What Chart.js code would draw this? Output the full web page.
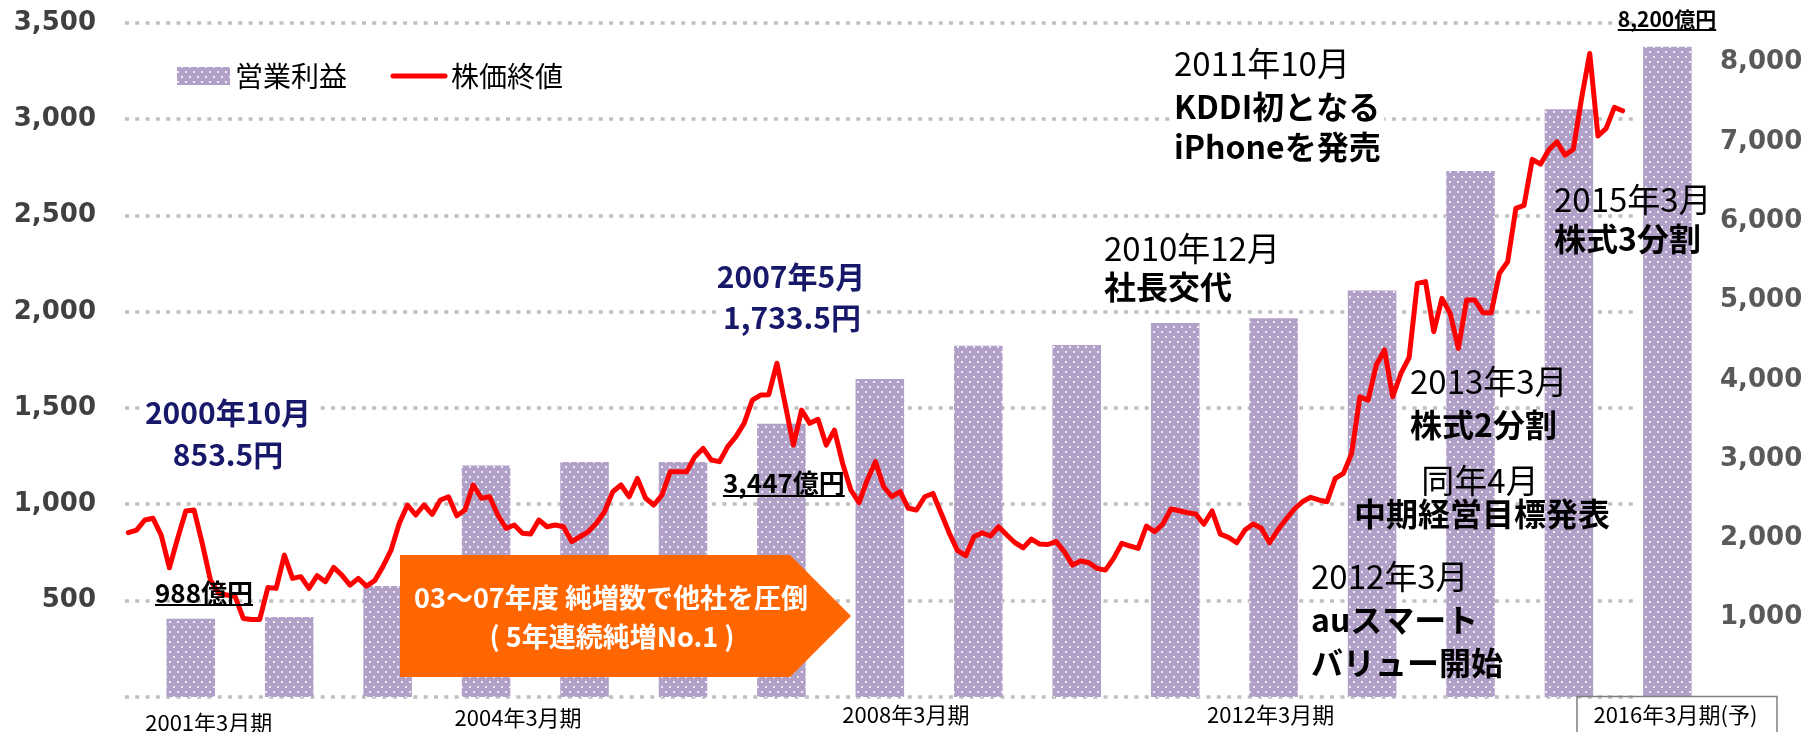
<!DOCTYPE html>
<html><head><meta charset="utf-8">
<script src="https://cdn.jsdelivr.net/npm/chart.js@4.4.0/dist/chart.umd.min.js"></script>
<style>html,body{margin:0;padding:0;background:#fff;}#wrap{width:1809px;height:732px;position:relative;}</style>
</head><body><div id="wrap"><canvas id="c" width="1809" height="732"></canvas></div>
<script>
// ---------------- data ----------------
const seriesNames = ['営業利益', '株価終値'];
const fiscalYears = [2001,2002,2003,2004,2005,2006,2007,2008,2009,2010,2011,2012,2013,2014,2015,2016];
const operatingProfit = [988,1010,1400,2920,2965,2965,3447,4009,4431,4439,4718,4775,5127,6632,7413,8200]; // 億円
// monthly closing price, first point = 2000年10月
const closingPrice = [
  853.5,867,919,928,841,671,824,966,971,798,
  607,538,530,521,408,403,403,569,564,737,
  616,625,564,630,599,673,633,581,616,576,
  604,677,763,902,997,945,997,948,1023,1040,
  941,971,1101,1032,1040,945,876,893,850,846,
  919,884,893,884,807,832,858,902,962,1066,
  1101,1040,1135,1032,997,1049,1170,1170,1170,1248,
  1291,1231,1222,1300,1352,1421,1542,1568,1570,1733.5,
  1520,1308,1490,1421,1442,1308,1386,1213,1075,1009,
  1127,1222,1092,1040,1066,980,971,1040,1057,954,
  850,760,734,832,853,836,884,841,801,775,
  820,794,792,807,755,685,706,697,668,659,
  720,798,784,772,888,858,898,976,967,957,
  950,897,966,846,829,801,867,898,876,801,
  867,923,975,1014,1037,1023,1014,1135,1161,1265,
  1559,1542,1724,1802,1559,1680,1763,2148,2157,1897,
  2070,1992,1810,2061,2061,1995,1995,2200,2260,2537,
  2553,2792,2767,2840,2883,2814,2844,3108,3342,2913,
  2953,3062,3044
];
const leftTicks = [500,1000,1500,2000,2500,3000,3500];
const rightTicks = [1000,2000,3000,4000,5000,6000,7000,8000];
const xTickFY = [2001,2004,2008,2012,2016];
const xTickLabels = ['2001年3月期','2004年3月期','2008年3月期','2012年3月期','2016年3月期(予)'];

// ---------------- style ----------------
const JP = '"Noto Sans CJK JP","Noto Sans",sans-serif';
const NUM = '"DejaVu Sans",sans-serif';
const NAVY = '#18186A';
const xLabelNudge = [18, 32, 26, -3, 8];
const xLabelY = [723, 718, 715, 715, 715];

function makePattern(){
  const c = document.createElement('canvas'); c.width = 8; c.height = 10;
  const g = c.getContext('2d');
  g.fillStyle = '#B1A0C7'; g.fillRect(0,0,8,10);
  g.fillStyle = 'rgba(255,255,255,0.8)';
  g.fillRect(1,1,2,2); g.fillRect(5,6,2,2);
  return g.createPattern(c, 'repeat');
}
const barPattern = makePattern();

function txt(ctx, s, x, y, o){
  ctx.save();
  ctx.font = o.font; ctx.textBaseline = 'middle'; ctx.textAlign = o.align || 'left';
  const w = ctx.measureText(s).width;
  let x0 = x; if (o.align === 'center') x0 = x - w/2; else if (o.align === 'right') x0 = x - w;
  if (o.bg){ ctx.fillStyle = '#fff'; ctx.fillRect(x0-4, y-o.h/2, w+8, o.h); }
  ctx.fillStyle = o.color || '#000';
  ctx.fillText(s, x, y);
  if (o.ul){ ctx.strokeStyle = o.color || '#000'; ctx.lineWidth = 2; ctx.beginPath(); ctx.moveTo(x0, o.ul); ctx.lineTo(x0+w, o.ul); ctx.stroke(); }
  ctx.restore();
}

const gridPlugin = {
  id: 'dotGrid',
  beforeDatasetsDraw(chart){
    const {ctx, chartArea: a} = chart; const y = chart.scales.y;
    ctx.save(); ctx.strokeStyle = '#BFBFBF'; ctx.lineWidth = 3.5; ctx.setLineDash([4, 6.3]);
    [0, ...leftTicks].forEach(v => {
      const py = Math.round(y.getPixelForValue(v));
      ctx.beginPath(); ctx.moveTo(a.left, py); ctx.lineTo(a.right - 80, py); ctx.stroke();
    });
    ctx.restore();
  }
};

const decorPlugin = {
  id: 'decor',
  afterDatasetsDraw(chart){
    const ctx = chart.ctx; const xb = chart.scales.xBar;
    const B = (n)=>'bold '+n+'px '+JP, R = (n)=>n+'px '+JP;
    // orange arrow box
    ctx.save(); ctx.fillStyle = '#FF6600';
    ctx.beginPath(); ctx.moveTo(400,555); ctx.lineTo(790,555); ctx.lineTo(851,616); ctx.lineTo(790,677); ctx.lineTo(400,677); ctx.closePath(); ctx.fill();
    ctx.restore();
    txt(ctx, '03～07年度 純増数で他社を圧倒', 611, 598, {font:B(27), color:'#fff', align:'center'});
    txt(ctx, '( 5年連続純増No.1 )', 612, 637, {font:B(27), color:'#fff', align:'center'});
    // navy labels
    txt(ctx, '2000年10月', 228, 413, {font:B(30), color:NAVY, align:'center', bg:true, h:36});
    txt(ctx, '853.5円', 228, 455, {font:B(30), color:NAVY, align:'center', bg:true, h:36});
    txt(ctx, '2007年5月', 791, 277, {font:B(30), color:NAVY, align:'center', bg:true, h:36});
    txt(ctx, '1,733.5円', 792, 318, {font:B(30), color:NAVY, align:'center', bg:true, h:36});
    // profit labels
    txt(ctx, '988億円', 155, 593, {font:B(26), ul:605});
    txt(ctx, '3,447億円', 723, 483, {font:B(26), ul:496});
    txt(ctx, '8,200億円', 1667, 19, {font:B(21), align:'center', ul:30});
    // events
    txt(ctx, '2010年12月', 1104, 248, {font:R(33), bg:true, h:36});
    txt(ctx, '社長交代', 1104, 287, {font:B(32), bg:true, h:38});
    txt(ctx, '2011年10月', 1174, 63, {font:R(33), bg:true, h:38});
    txt(ctx, 'KDDI初となる', 1174, 107, {font:B(32), bg:true, h:40});
    txt(ctx, 'iPhoneを発売', 1174, 147, {font:B(32), bg:true, h:40});
    txt(ctx, '2015年3月', 1554, 199, {font:R(33)});
    txt(ctx, '株式3分割', 1554, 239, {font:B(32)});
    txt(ctx, '2013年3月', 1410, 381, {font:R(33)});
    txt(ctx, '株式2分割', 1410, 425, {font:B(32)});
    txt(ctx, '同年4月', 1480, 480, {font:R(33), align:'center'});
    txt(ctx, '中期経営目標発表', 1482, 514, {font:B(32), align:'center'});
    txt(ctx, '2012年3月', 1311, 576, {font:R(33)});
    txt(ctx, 'auスマート', 1311, 620, {font:B(32)});
    txt(ctx, 'バリュー開始', 1311, 663, {font:B(32)});
    // legend
    const ds = chart.data.datasets;
    ctx.save();
    ctx.fillStyle = ds[1].backgroundColor; ctx.fillRect(177, 67, 53, 18);
    ctx.strokeStyle = ds[0].borderColor; ctx.lineWidth = 5; ctx.lineCap = 'round';
    ctx.beginPath(); ctx.moveTo(393, 76); ctx.lineTo(445, 76); ctx.stroke();
    ctx.restore();
    txt(ctx, ds[1].label, 235, 76, {font:R(28)});
    txt(ctx, ds[0].label, 451, 76, {font:R(28)});
    // x labels
    xTickLabels.forEach((s, i) => {
      const px = xb.getPixelForValue(xTickFY[i]) + xLabelNudge[i];
      txt(ctx, s, px, xLabelY[i], {font:R(22), align:'center'});
    });
    ctx.save(); ctx.strokeStyle = '#7F7F7F'; ctx.lineWidth = 1.5;
    ctx.strokeRect(1577, 696.5, 200, 40); ctx.restore();
  }
};

new Chart(document.getElementById('c'), {
  type: 'bar',
  data: {
    datasets: [
      { type:'line', label: seriesNames[1], data: closingPrice.map((v,i)=>({x:i, y:v})),
        xAxisID:'xLine', yAxisID:'y', borderColor:'#FF0000', borderWidth:5, pointRadius:0,
        tension:0, borderJoinStyle:'round', borderCapStyle:'round', order:1 },
      { type:'bar', label: seriesNames[0], data: fiscalYears.map((fy,i)=>({x:fy, y:operatingProfit[i]})),
        xAxisID:'xBar', yAxisID:'yR', backgroundColor: barPattern, borderWidth:0, grouped:false,
        categoryPercentage:1, barPercentage:0.493, order:2 }
    ]
  },
  options: {
    responsive:false, animation:false, devicePixelRatio:1,
    layout:{padding:{top:23, bottom:35, left:0, right:0}},
    plugins:{legend:{display:false}, tooltip:{enabled:false}},
    scales:{
      xLine:{type:'linear', display:false, offset:false, min:-0.41, max:193.5},
      xBar:{type:'linear', display:false, offset:false, min:2000.332, max:2016.504,
         afterBuildTicks:s=>{ s.ticks = fiscalYears.map(v=>({value:v})); }},
      y:{type:'linear', position:'left', min:0, max:3500,
         afterBuildTicks:s=>{ s.ticks = leftTicks.map(v=>({value:v})); },
         afterFit:s=>{ s.width = 125; s.paddingTop = 0; s.paddingBottom = 0; },
         grid:{display:false, drawTicks:false}, border:{display:false},
         ticks:{padding:29, color:'#404040', font:{family:NUM, size:26, weight:'bold'}, callback:v=>v.toLocaleString('en-US')}},
      yR:{type:'linear', position:'right', min:0, max:8500,
         afterBuildTicks:s=>{ s.ticks = rightTicks.map(v=>({value:v})); },
         afterFit:s=>{ s.width = 92; s.paddingTop = 0; s.paddingBottom = 0; },
         grid:{display:false, drawTicks:false}, border:{display:false},
         ticks:{padding:3, color:'#595959', font:{family:NUM, size:26, weight:'bold'}, callback:v=>v.toLocaleString('en-US')}}
    }
  },
  plugins:[gridPlugin, decorPlugin]
});
</script></body></html>
